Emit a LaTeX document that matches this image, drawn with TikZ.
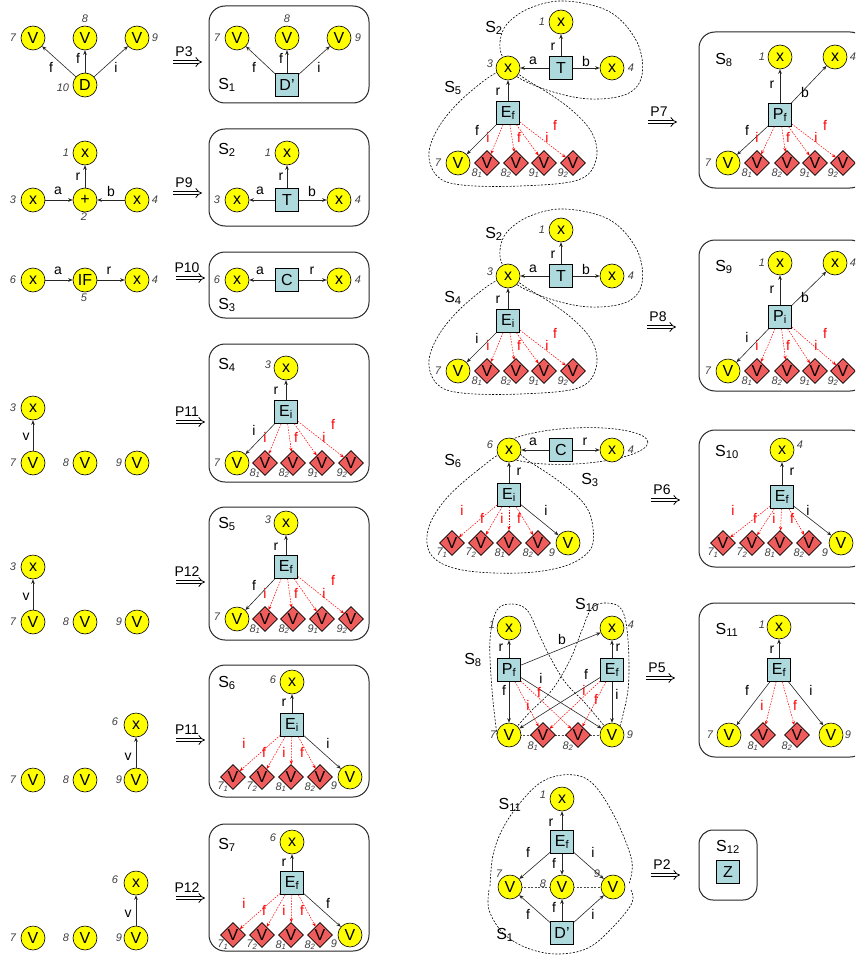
\documentclass[tikz,border=0pt]{standalone}
\usepackage{fontspec}
\setmainfont{Liberation Sans}
\usetikzlibrary{shapes.geometric,arrows.meta}
\pgfdeclarelayer{bg}
\pgfsetlayers{bg,main}
\definecolor{yel}{RGB}{255,255,0}
\definecolor{lblue}{RGB}{174,218,222}
\definecolor{lred}{RGB}{238,92,92}
\newcommand{\ndfont}{\fontsize{16}{18}\selectfont}
\newcommand{\lbfont}{\fontsize{14}{16}\selectfont}
\newcommand{\nmfont}{\fontsize{11}{13}\selectfont\itshape}
\newcommand{\EL}[3]{\node[el] (#1) at (#2) {#3};}
\newcommand{\RL}[3]{\node[rl] (#1) at (#2) {#3};}
\newcommand{\NM}[3]{\node[num] (#1) at (#2) {#3};}
\newcommand{\SL}[3]{\node[sl] (#1) at (#2) {S\textsubscript{#3}};}
\newcommand{\PA}[4]{\node[el] (#1) at (#2,#3) {#4};
  \coordinate (#1a) at ([xshift=-11pt,yshift=-10pt]#1.center);
  \coordinate (#1b) at ([xshift=18pt,yshift=-10pt]#1.center);
  \draw[impl] (#1a) -- (#1b);}
\begin{document}
\begin{tikzpicture}[x=1pt,y=-1pt,
  vc/.style={circle, draw=black, line width=0.6pt, fill=yel, minimum size=24pt, inner sep=0pt, font=\ndfont},
  sq/.style={rectangle, draw=black, line width=0.6pt, fill=lblue, minimum size=23pt, inner sep=0pt, font=\ndfont},
  dm/.style={diamond, draw=black, line width=0.6pt, fill=lred, minimum width=25pt, minimum height=25pt, inner sep=0pt, font=\ndfont},
  num/.style={font=\nmfont, text=black!75, inner sep=0pt},
  el/.style={font=\lbfont, inner sep=0pt},
  rl/.style={font=\lbfont, text=red, inner sep=0pt},
  sl/.style={font=\ndfont, inner sep=0pt},
  ar/.style={draw=black!85, line width=0.6pt, -{Stealth[length=4.5pt,width=3.6pt]}},
  rar/.style={draw=red, line width=0.5pt, dash pattern=on 1.6pt off 1.2pt, -{Stealth[length=4pt,width=3.2pt]}},
  sbox/.style={draw=black!85, line width=1pt, rounded corners=16pt},
  reg/.style={draw=black, line width=0.6pt, dash pattern=on 2pt off 1.5pt},
  impl/.style={draw=black, double, double distance=2.6pt, line width=0.8pt, -{Implies}}
]
\clip (0,0) rectangle (855,955);

% ================= Left column =================
% Row 1
\node[vc] (a7) at (33,38) {V};
\node[vc] (a8) at (85,38) {V};
\node[vc] (a9) at (137,38) {V};
\node[vc] (a10) at (85,85) {D};
\NM{na7}{13,38}{7}\NM{na8}{85,19}{8}\NM{na9}{155,38}{9}\NM{na10}{63,88}{10}
\draw[ar] (a10) -- (a7); \draw[ar] (a10) -- (a8); \draw[ar] (a10) -- (a9);
\EL{ea1}{51,67}{f}\EL{ea2}{78,58}{f}\EL{ea3}{116,67}{i}
\PA{P3}{184}{52}{P3}

\draw[sbox] (209,6) rectangle (369,103);
\node[vc] (b7) at (237,38) {V};
\node[vc] (b8) at (287,38) {V};
\node[vc] (b9) at (339,38) {V};
\node[sq] (bD) at (287,85) {D'};
\NM{nb7}{217,38}{7}\NM{nb8}{287,19}{8}\NM{nb9}{358,38}{9}
\SL{sb}{227,85}{1}
\draw[ar] (bD) -- (b7); \draw[ar] (bD) -- (b8); \draw[ar] (bD) -- (b9);
\EL{eb1}{254,67}{f}\EL{eb2}{281,58}{f}\EL{eb3}{319,67}{i}

% Row 2
\node[vc] (c1) at (85,153) {x};
\node[vc] (c3) at (33,200) {x};
\node[vc] (c2) at (85,200) {+};
\node[vc] (c4) at (137,200) {x};
\NM{nc1}{66,153}{1}\NM{nc3}{13,200}{3}\NM{nc2}{84,217}{2}\NM{nc4}{155,200}{4}
\draw[ar] (c3) -- (c2); \draw[ar] (c4) -- (c2); \draw[ar] (c2) -- (c1);
\EL{ec1}{58,191}{a}\EL{ec2}{111,191}{b}\EL{ec3}{78,177}{r}
\PA{P9}{184}{183}{P9}

\draw[sbox] (209,129) rectangle (369,226);
\node[vc] (d1) at (287,153) {x};
\node[sq] (dT) at (287,200) {T};
\node[vc] (d3) at (237,200) {x};
\node[vc] (d4) at (339,200) {x};
\NM{nd1}{268,153}{1}\NM{nd3}{217,200}{3}\NM{nd4}{358,200}{4}
\SL{sd}{227,150}{2}
\draw[ar] (dT) -- (d1); \draw[ar] (dT) -- (d3); \draw[ar] (dT) -- (d4);
\EL{ed1}{281,177}{r}\EL{ed2}{260,191}{a}\EL{ed3}{312,191}{b}

% Row 3
\node[vc] (e6) at (33,280) {x};
\node[vc] (e5) at (85,280) {IF};
\node[vc] (e4) at (137,280) {x};
\NM{ne6}{13,280}{6}\NM{ne5}{84,298}{5}\NM{ne4}{155,280}{4}
\draw[ar] (e6) -- (e5); \draw[ar] (e5) -- (e4);
\EL{ee1}{58,271}{a}\EL{ee2}{109,271}{r}
\PA{P10}{187}{268}{P10}

\draw[sbox] (209,252) rectangle (369,318);
\node[vc] (f6) at (237,280) {x};
\node[sq] (fC) at (287,280) {C};
\node[vc] (f4) at (339,280) {x};
\NM{nf6}{217,280}{6}\NM{nf4}{358,280}{4}
\SL{sf}{227,305}{3}
\draw[ar] (fC) -- (f6); \draw[ar] (fC) -- (f4);
\EL{ef1}{260,271}{a}\EL{ef2}{312,271}{r}

% Row 4
\node[vc] (g3) at (33,408) {x};
\node[vc] (g7) at (33,463) {V};
\node[vc] (g8) at (85,463) {V};
\node[vc] (g9) at (137,463) {V};
\NM{ng3}{13,408}{3}\NM{ng7}{13,463}{7}\NM{ng8}{66,463}{8}\NM{ng9}{119,463}{9}
\draw[ar] (g7) -- (g3);
\EL{eg1}{26,437}{v}
\PA{P11a}{187}{412}{P11}

\draw[sbox] (209,344) rectangle (369,482);
\node[vc] (h3) at (286,368) {x};
\node[sq] (hE) at (286,412) {E\textsubscript{i}};
\node[vc] (h7) at (237,463) {V};
\node[dm] (h81) at (265,463) {V};
\node[dm] (h82) at (293,463) {V};
\node[dm] (h91) at (322,463) {V};
\node[dm] (h92) at (351,463) {V};
\NM{nh3}{268,365}{3}\NM{nh7}{217,463}{7}
\NM{nh81}{255,473}{8\textsubscript{1}}\NM{nh82}{284,473}{8\textsubscript{2}}
\NM{nh91}{313,473}{9\textsubscript{1}}\NM{nh92}{342,473}{9\textsubscript{2}}
\SL{sh}{227,365}{4}
\draw[ar] (hE) -- (h3); \draw[ar] (hE) -- (h7);
\draw[rar] (hE) -- (h81); \draw[rar] (hE) -- (h82); \draw[rar] (hE) -- (h91); \draw[rar] (hE) -- (h92);
\EL{eh1}{276,391}{r}\EL{eh2}{254,430}{i}
\RL{rh1}{265,437}{i}\RL{rh2}{296,437}{f}\RL{rh3}{324,437}{i}\RL{rh4}{333,424}{f}

% Row 5
\node[vc] (i3) at (33,567) {x};
\node[vc] (i7) at (33,622) {V};
\node[vc] (i8) at (85,622) {V};
\node[vc] (i9) at (137,622) {V};
\NM{ni3}{13,567}{3}\NM{ni7}{13,622}{7}\NM{ni8}{66,622}{8}\NM{ni9}{119,622}{9}
\draw[ar] (i7) -- (i3);
\EL{ei1}{26,597}{v}
\PA{P12a}{187}{572}{P12}

\draw[sbox] (209,507) rectangle (369,640);
\node[vc] (j3) at (286,523) {x};
\node[sq] (jE) at (286,567) {E\textsubscript{f}};
\node[vc] (j7) at (237,619) {V};
\node[dm] (j81) at (265,619) {V};
\node[dm] (j82) at (293,619) {V};
\node[dm] (j91) at (322,619) {V};
\node[dm] (j92) at (351,619) {V};
\NM{nj3}{268,520}{3}\NM{nj7}{217,617}{7}
\NM{nj81}{255,629}{8\textsubscript{1}}\NM{nj82}{284,629}{8\textsubscript{2}}
\NM{nj91}{313,629}{9\textsubscript{1}}\NM{nj92}{342,629}{9\textsubscript{2}}
\SL{sj}{227,524}{5}
\draw[ar] (jE) -- (j3); \draw[ar] (jE) -- (j7);
\draw[rar] (jE) -- (j81); \draw[rar] (jE) -- (j82); \draw[rar] (jE) -- (j91); \draw[rar] (jE) -- (j92);
\EL{ej1}{276,547}{r}\EL{ej2}{254,585}{f}
\RL{rj1}{265,593}{i}\RL{rj2}{296,593}{f}\RL{rj3}{324,593}{i}\RL{rj4}{333,580}{f}

% Row 6
\node[vc] (k6) at (136,725) {x};
\node[vc] (k7) at (33,780) {V};
\node[vc] (k8) at (85,780) {V};
\node[vc] (k9) at (136,780) {V};
\NM{nk6}{115,722}{6}\NM{nk7}{13,780}{7}\NM{nk8}{66,780}{8}\NM{nk9}{119,780}{9}
\draw[ar] (k9) -- (k6);
\EL{ek1}{128,757}{v}
\PA{P11b}{187}{730}{P11}

\draw[sbox] (209,665) rectangle (369,797);
\node[vc] (l6) at (292,682) {x};
\node[sq] (lE) at (292,725) {E\textsubscript{i}};
\node[dm] (l71) at (233,777) {V};
\node[dm] (l72) at (262,777) {V};
\node[dm] (l81) at (291,777) {V};
\node[dm] (l82) at (320,777) {V};
\node[vc] (l9) at (350,777) {V};
\NM{nl6}{273,680}{6}\NM{nl9}{334,786}{9}
\NM{nl71}{223,787}{7\textsubscript{1}}\NM{nl72}{252,787}{7\textsubscript{2}}
\NM{nl81}{281,787}{8\textsubscript{1}}\NM{nl82}{310,787}{8\textsubscript{2}}
\SL{sl6}{227,683}{6}
\draw[ar] (lE) -- (l6); \draw[ar] (lE) -- (l9);
\draw[rar] (lE) -- (l71); \draw[rar] (lE) -- (l72); \draw[rar] (lE) -- (l81); \draw[rar] (lE) -- (l82);
\EL{el1}{284,703}{r}\EL{el2}{328,743}{i}
\RL{rl1}{244,743}{i}\RL{rl2}{264,752}{f}\RL{rl3}{284,752}{i}\RL{rl4}{302,752}{f}

% Row 7
\node[vc] (m6) at (136,883) {x};
\node[vc] (m7) at (33,938) {V};
\node[vc] (m8) at (85,938) {V};
\node[vc] (m9) at (136,938) {V};
\NM{nm6}{115,880}{6}\NM{nm7}{13,938}{7}\NM{nm8}{66,938}{8}\NM{nm9}{119,938}{9}
\draw[ar] (m9) -- (m6);
\EL{em1}{128,914}{v}
\PA{P12b}{187}{888}{P12}

\draw[sbox] (209,824) rectangle (369,951);
\node[vc] (n6) at (292,842) {x};
\node[sq] (nE) at (292,883) {E\textsubscript{f}};
\node[dm] (n71) at (233,935) {V};
\node[dm] (n72) at (262,935) {V};
\node[dm] (n81) at (291,935) {V};
\node[dm] (n82) at (320,935) {V};
\node[vc] (n9) at (350,935) {V};
\NM{nn6}{273,838}{6}\NM{nn9}{334,944}{9}
\NM{nn71}{223,945}{7\textsubscript{1}}\NM{nn72}{252,945}{7\textsubscript{2}}
\NM{nn81}{281,945}{8\textsubscript{1}}\NM{nn82}{310,945}{8\textsubscript{2}}
\SL{sn}{227,845}{7}
\draw[ar] (nE) -- (n6); \draw[ar] (nE) -- (n9);
\draw[rar] (nE) -- (n71); \draw[rar] (nE) -- (n72); \draw[rar] (nE) -- (n81); \draw[rar] (nE) -- (n82);
\EL{en1}{284,863}{r}\EL{en2}{328,903}{f}
\RL{rn1}{244,903}{i}\RL{rn2}{264,910}{f}\RL{rn3}{284,910}{i}\RL{rn4}{302,910}{f}

% ================= Right column =================
% Group 1 (S2 / S5)
\node[vc] (o1) at (561,22) {x};
\node[sq] (oT) at (561,68) {T};
\node[vc] (o3) at (508,68) {x};
\node[vc] (o4) at (612,68) {x};
\node[sq] (oE) at (508,113) {E\textsubscript{f}};
\node[vc] (o7) at (458,163) {V};
\node[dm] (o81) at (487,163) {V};
\node[dm] (o82) at (516,163) {V};
\node[dm] (o91) at (544,163) {V};
\node[dm] (o92) at (573,163) {V};
\NM{no1}{542,22}{1}\NM{no3}{490,64}{3}\NM{no4}{631,68}{4}\NM{no7}{438,163}{7}
\NM{no81}{477,173}{8\textsubscript{1}}\NM{no82}{506,173}{8\textsubscript{2}}
\NM{no91}{534,173}{9\textsubscript{1}}\NM{no92}{563,173}{9\textsubscript{2}}
\SL{so2}{494,28}{2}\SL{so5}{453,88}{5}
\draw[ar] (oT) -- (o1); \draw[ar] (oT) -- (o3); \draw[ar] (oT) -- (o4);
\draw[ar] (oE) -- (o3); \draw[ar] (oE) -- (o7);
\draw[rar] (oE) -- (o81); \draw[rar] (oE) -- (o82); \draw[rar] (oE) -- (o91); \draw[rar] (oE) -- (o92);
\EL{eo1}{553,47}{r}\EL{eo2}{533,61}{a}\EL{eo3}{586,61}{b}\EL{eo4}{498,92}{r}\EL{eo5}{477,130}{f}
\RL{ro1}{488,137}{i}\RL{ro2}{519,137}{f}\RL{ro3}{547,137}{i}\RL{ro4}{555,125}{f}
\PA{P7}{659}{112}{P7}
\begin{pgfonlayer}{bg}
\draw[reg] plot[smooth cycle, tension=0.6] coordinates {(503,58) (500,42) (507,24) (530,8) (565,1) (610,12) (637,42) (642,75) (627,94) (590,99) (550,91) (516,76)};
\draw[reg] plot[smooth cycle, tension=0.6] coordinates {(504,70) (470,92) (442,122) (429,152) (437,176) (462,185) (520,186) (578,180) (596,160) (592,133) (568,107) (530,82)};
\end{pgfonlayer}

\draw[sbox] (699,32) rectangle (866,188);
\node[vc] (p1) at (780,57) {x};
\node[vc] (p4) at (835,57) {x};
\node[sq] (pP) at (780,115) {P\textsubscript{f}};
\node[vc] (p7) at (728,163) {V};
\node[dm] (p81) at (757,163) {V};
\node[dm] (p82) at (787,163) {V};
\node[dm] (p91) at (815,163) {V};
\node[dm] (p92) at (843,163) {V};
\NM{np1}{762,57}{1}\NM{np4}{853,57}{4}\NM{np7}{708,163}{7}
\NM{np81}{747,173}{8\textsubscript{1}}\NM{np82}{777,173}{8\textsubscript{2}}
\NM{np91}{805,173}{9\textsubscript{1}}\NM{np92}{833,173}{9\textsubscript{2}}
\SL{sp}{724,60}{8}
\draw[ar] (pP) -- (p1); \draw[ar] (pP) -- (p4); \draw[ar] (pP) -- (p7);
\draw[rar] (pP) -- (p81); \draw[rar] (pP) -- (p82); \draw[rar] (pP) -- (p91); \draw[rar] (pP) -- (p92);
\EL{ep1}{772,85}{r}\EL{ep2}{805,92}{b}\EL{ep3}{747,130}{f}
\RL{rp1}{757,137}{i}\RL{rp2}{788,137}{f}\RL{rp3}{816,137}{i}\RL{rp4}{825,125}{f}

% Group 2 (S2 / S4)
\node[vc] (q1) at (561,230) {x};
\node[sq] (qT) at (561,276) {T};
\node[vc] (q3) at (508,276) {x};
\node[vc] (q4) at (612,276) {x};
\node[sq] (qE) at (508,321) {E\textsubscript{i}};
\node[vc] (q7) at (458,371) {V};
\node[dm] (q81) at (487,371) {V};
\node[dm] (q82) at (516,371) {V};
\node[dm] (q91) at (544,371) {V};
\node[dm] (q92) at (573,371) {V};
\NM{nq1}{542,230}{1}\NM{nq3}{490,272}{3}\NM{nq4}{631,276}{4}\NM{nq7}{438,371}{7}
\NM{nq81}{477,381}{8\textsubscript{1}}\NM{nq82}{506,381}{8\textsubscript{2}}
\NM{nq91}{534,381}{9\textsubscript{1}}\NM{nq92}{563,381}{9\textsubscript{2}}
\SL{sq2}{494,234}{2}\SL{sq4}{453,298}{4}
\draw[ar] (qT) -- (q1); \draw[ar] (qT) -- (q3); \draw[ar] (qT) -- (q4);
\draw[ar] (qE) -- (q3); \draw[ar] (qE) -- (q7);
\draw[rar] (qE) -- (q81); \draw[rar] (qE) -- (q82); \draw[rar] (qE) -- (q91); \draw[rar] (qE) -- (q92);
\EL{eq1}{553,255}{r}\EL{eq2}{533,269}{a}\EL{eq3}{586,269}{b}\EL{eq4}{498,300}{r}\EL{eq5}{477,338}{i}
\RL{rq1}{488,345}{i}\RL{rq2}{519,345}{f}\RL{rq3}{547,345}{i}\RL{rq4}{555,333}{f}
\PA{P8}{658}{317}{P8}
\begin{pgfonlayer}{bg}
\draw[reg] plot[smooth cycle, tension=0.6] coordinates {(503,266) (500,250) (507,232) (530,216) (565,209) (610,220) (637,250) (642,283) (627,302) (590,307) (550,299) (516,284)};
\draw[reg] plot[smooth cycle, tension=0.6] coordinates {(504,278) (470,300) (442,330) (429,360) (437,384) (462,393) (520,394) (578,388) (596,368) (592,341) (568,315) (530,290)};
\end{pgfonlayer}

\draw[sbox] (699,240) rectangle (866,391);
\node[vc] (s1) at (780,263) {x};
\node[vc] (s4) at (835,263) {x};
\node[sq] (sP) at (780,317) {P\textsubscript{i}};
\node[vc] (s7) at (728,371) {V};
\node[dm] (s81) at (757,371) {V};
\node[dm] (s82) at (787,371) {V};
\node[dm] (s91) at (815,371) {V};
\node[dm] (s92) at (843,371) {V};
\NM{ns1}{762,263}{1}\NM{ns4}{853,263}{4}\NM{ns7}{708,371}{7}
\NM{ns81}{747,381}{8\textsubscript{1}}\NM{ns82}{777,381}{8\textsubscript{2}}
\NM{ns91}{805,381}{9\textsubscript{1}}\NM{ns92}{833,381}{9\textsubscript{2}}
\SL{ss}{724,267}{9}
\draw[ar] (sP) -- (s1); \draw[ar] (sP) -- (s4); \draw[ar] (sP) -- (s7);
\draw[rar] (sP) -- (s81); \draw[rar] (sP) -- (s82); \draw[rar] (sP) -- (s91); \draw[rar] (sP) -- (s92);
\EL{es1}{772,290}{r}\EL{es2}{805,297}{b}\EL{es3}{747,337}{i}
\RL{rs1}{757,345}{i}\RL{rs2}{788,345}{f}\RL{rs3}{816,345}{i}\RL{rs4}{825,333}{f}

% Group 3 (S6 / S3)
\node[vc] (t6) at (509,450) {x};
\node[sq] (tC) at (561,450) {C};
\node[vc] (t4) at (612,450) {x};
\node[sq] (tE) at (509,495) {E\textsubscript{i}};
\node[dm] (t71) at (452,543) {V};
\node[dm] (t72) at (481,543) {V};
\node[dm] (t81) at (509,543) {V};
\node[dm] (t82) at (538,543) {V};
\node[vc] (t9) at (568,543) {V};
\NM{nt6}{490,445}{6}\NM{nt4}{631,450}{4}\NM{nt9}{552,553}{9}
\NM{nt71}{442,553}{7\textsubscript{1}}\NM{nt72}{471,553}{7\textsubscript{2}}
\NM{nt81}{500,553}{8\textsubscript{1}}\NM{nt82}{528,553}{8\textsubscript{2}}
\SL{st6}{453,461}{6}\SL{st3}{590,480}{3}
\draw[ar] (tC) -- (t6); \draw[ar] (tC) -- (t4); \draw[ar] (tE) -- (t6); \draw[ar] (tE) -- (t9);
\draw[rar] (tE) -- (t71); \draw[rar] (tE) -- (t72); \draw[rar] (tE) -- (t81); \draw[rar] (tE) -- (t82);
\EL{et1}{533,442}{a}\EL{et2}{585,442}{r}\EL{et3}{519,472}{r}\EL{et4}{546,510}{i}
\RL{rt1}{462,510}{i}\RL{rt2}{482,518}{f}\RL{rt3}{502,518}{i}\RL{rt4}{519,518}{f}
\PA{P6}{662}{490}{P6}
\begin{pgfonlayer}{bg}
\draw[reg, rotate around={3:(574,446)}] (574,446) ellipse [x radius=74pt, y radius=18pt];
\draw[reg] plot[smooth cycle, tension=0.6] coordinates {(509,450) (478,470) (445,500) (428,530) (432,556) (462,570) (520,573) (565,566) (590,550) (593,528) (585,505) (560,482) (530,462)};
\end{pgfonlayer}

\draw[sbox] (699,430) rectangle (866,567);
\node[vc] (u4) at (782,450) {x};
\node[sq] (uE) at (782,497) {E\textsubscript{f}};
\node[dm] (u71) at (723,543) {V};
\node[dm] (u72) at (752,543) {V};
\node[dm] (u81) at (780,543) {V};
\node[dm] (u82) at (809,543) {V};
\node[vc] (u9) at (841,543) {V};
\NM{nu4}{800,445}{4}\NM{nu9}{825,553}{9}
\NM{nu71}{713,553}{7\textsubscript{1}}\NM{nu72}{742,553}{7\textsubscript{2}}
\NM{nu81}{770,553}{8\textsubscript{1}}\NM{nu82}{799,553}{8\textsubscript{2}}
\SL{su}{727,452}{10}
\draw[ar] (uE) -- (u4); \draw[ar] (uE) -- (u9);
\draw[rar] (uE) -- (u71); \draw[rar] (uE) -- (u72); \draw[rar] (uE) -- (u81); \draw[rar] (uE) -- (u82);
\EL{eu1}{792,472}{r}\EL{eu2}{808,510}{i}
\RL{ru1}{733,510}{i}\RL{ru2}{755,518}{f}\RL{ru3}{774,518}{i}\RL{ru4}{792,518}{f}

% Group 4 (S8 / S10)
\node[vc] (v1) at (509,628) {x};
\node[vc] (v4) at (612,628) {x};
\node[sq] (vP) at (509,670) {P\textsubscript{f}};
\node[sq] (vE) at (612,670) {E\textsubscript{f}};
\node[vc] (v7) at (509,735) {V};
\node[dm] (v81) at (543,735) {V};
\node[dm] (v82) at (578,735) {V};
\node[vc] (v9) at (612,735) {V};
\NM{nv1}{492,625}{1}\NM{nv4}{631,625}{4}\NM{nv7}{493,735}{7}\NM{nv9}{630,735}{9}
\NM{nv81}{533,746}{8\textsubscript{1}}\NM{nv82}{568,746}{8\textsubscript{2}}
\SL{sv8}{473,660}{8}\SL{sv10}{587,605}{10}
\draw[ar] (vP) -- (v1); \draw[ar] (vP) -- (v4); \draw[ar] (vP) -- (v7); \draw[ar] (vP) -- (v9);
\draw[ar] (vE) -- (v4); \draw[ar] (vE) -- (v7); \draw[ar] (vE) -- (v9);
\draw[rar] (vP) -- (v81); \draw[rar] (vP) -- (v82); \draw[rar] (vE) -- (v81); \draw[rar] (vE) -- (v82);
\EL{ev1}{501,648}{r}\EL{ev2}{562,639}{b}\EL{ev3}{504,690}{f}\EL{ev4}{541,678}{i}
\EL{ev5}{618,648}{r}\EL{ev6}{586,674}{f}\EL{ev7}{617,694}{i}
\RL{rv1}{528,705}{i}\RL{rv2}{539,692}{f}\RL{rv3}{584,690}{i}\RL{rv4}{596,699}{f}
\PA{P5}{657}{668}{P5}
\begin{pgfonlayer}{bg}
\draw[reg, draw=black!70] (v7.center) -- (v9.center);
\draw[reg] plot[smooth, tension=0.6] coordinates {(497,735) (492,690) (490,640) (497,610) (512,604) (527,610) (538,632) (549,655) (565,682) (585,703) (606,728)};
\draw[reg] plot[smooth, tension=0.6] coordinates {(618,733) (628,690) (628,640) (622,610) (607,603) (592,608) (582,630) (570,660) (552,690) (530,712) (514,730)};
\end{pgfonlayer}

\draw[sbox] (699,603) rectangle (866,757);
\node[vc] (w1) at (779,627) {x};
\node[sq] (wE) at (779,670) {E\textsubscript{f}};
\node[vc] (w7) at (729,735) {V};
\node[dm] (w81) at (763,735) {V};
\node[dm] (w82) at (797,735) {V};
\node[vc] (w9) at (831,735) {V};
\NM{nw1}{762,625}{1}\NM{nw7}{710,735}{7}\NM{nw9}{848,735}{9}
\NM{nw81}{753,746}{8\textsubscript{1}}\NM{nw82}{787,746}{8\textsubscript{2}}
\SL{sw}{727,630}{11}
\draw[ar] (wE) -- (w1); \draw[ar] (wE) -- (w7); \draw[ar] (wE) -- (w9);
\draw[rar] (wE) -- (w81); \draw[rar] (wE) -- (w82);
\EL{ew1}{772,650}{r}\EL{ew2}{747,690}{f}\EL{ew3}{811,690}{i}
\RL{rw1}{762,705}{i}\RL{rw2}{795,705}{f}

% Group 5 (S11 / S1)
\node[vc] (y1) at (562,799) {x};
\node[sq] (yE) at (562,842) {E\textsubscript{f}};
\node[vc] (y7) at (510,887) {V};
\node[vc] (y8) at (562,887) {V};
\node[vc] (y9) at (613,887) {V};
\node[sq] (yD) at (562,933) {D'};
\NM{ny1}{543,795}{1}\NM{ny7}{499,874}{7}\NM{ny8}{543,884}{8}\NM{ny9}{597,874}{9}
\SL{sy11}{510,805}{11}\SL{sy1}{505,935}{1}
\draw[ar] (yE) -- (y1); \draw[ar] (yE) -- (y7); \draw[ar] (yE) -- (y8); \draw[ar] (yE) -- (y9);
\draw[ar] (yD) -- (y7); \draw[ar] (yD) -- (y8); \draw[ar] (yD) -- (y9);
\EL{ey1}{551,823}{r}\EL{ey2}{528,852}{f}\EL{ey3}{554,863}{f}\EL{ey4}{593,852}{i}
\EL{ey5}{528,914}{f}\EL{ey6}{554,907}{f}\EL{ey7}{593,914}{i}
\PA{P2}{662}{865}{P2}
\begin{pgfonlayer}{bg}
\draw[reg, draw=black!70] (y7.center) -- (y9.center);
\draw[reg] plot[smooth, tension=0.6] coordinates {(490,886) (493,855) (503,828) (520,803) (540,783) (562,775) (585,778) (602,795) (620,828) (632,862) (629,884)};
\draw[reg] plot[smooth, tension=0.6] coordinates {(489,890) (489,910) (503,933) (527,948) (557,954) (588,948) (613,927) (632,903) (631,890)};
\end{pgfonlayer}

\draw[sbox, rounded corners=14pt] (699,830) rectangle (757,900);
\SL{sz}{728,847}{12}
\node[sq] (zZ) at (728,872) {Z};
\end{tikzpicture}
\end{document}
